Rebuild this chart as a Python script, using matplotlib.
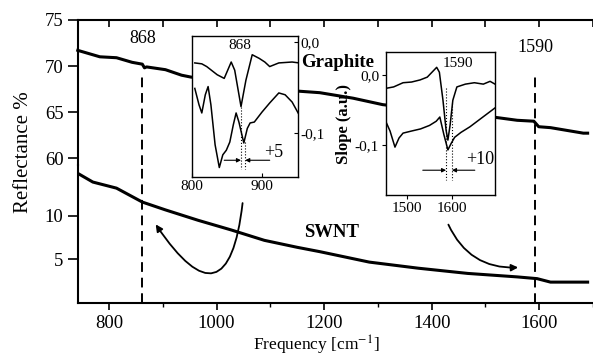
import matplotlib
matplotlib.use("Agg")
import matplotlib.pyplot as plt
import numpy as np

plt.rcParams['font.family'] = ['Liberation Serif', 'DejaVu Serif']
plt.rcParams['mathtext.fontset'] = 'stix'

# main curves
graphite_freq = [742, 783, 814, 843, 862, 866, 870, 905, 935, 952, 1000, 1080,
                 1144, 1192, 1254, 1309, 1400, 1460, 1508, 1559, 1590, 1599, 1621, 1682, 1690]
graphite_refl = [71.7, 71.0, 70.9, 70.4, 70.2, 69.8, 69.9, 69.6, 69.0, 68.8, 68.4, 67.8,
                 67.3, 67.1, 66.5, 65.8, 65.2, 64.8, 64.5, 64.1, 64.0, 63.4, 63.3, 62.7, 62.7]

swnt_freq = [742, 770, 814, 862, 905, 966, 1027, 1089, 1150, 1192, 1284, 1375,
             1467, 1559, 1596, 1621, 1690]
swnt_refl = [14.9, 13.9, 13.2, 11.6, 10.7, 9.5, 8.4, 7.2, 6.4, 5.9, 4.7, 4.0,
             3.4, 3.0, 2.8, 2.4, 2.4]

peak_lines = [862, 1592]

# inset 1 (around 868)
in1_freq = [804, 814, 821, 836, 846, 856, 861, 870, 877, 886, 896, 904, 911, 924, 943, 953]
in1_top = [-0.023, -0.024, -0.027, -0.036, -0.040, -0.022, -0.031, -0.071, -0.042,
           -0.014, -0.018, -0.022, -0.027, -0.023, -0.022, -0.023]
in1_freq_b = [804, 810, 814, 819, 823, 827, 833, 839, 844, 849, 854, 859, 863, 867,
              874, 879, 883, 889, 900, 911, 924, 933, 943, 953]
in1_bot = [-0.051, -0.069, -0.078, -0.058, -0.049, -0.069, -0.113, -0.138, -0.124,
           -0.119, -0.110, -0.091, -0.078, -0.088, -0.111, -0.095, -0.089, -0.088,
           -0.077, -0.067, -0.056, -0.058, -0.066, -0.080]

# inset 2 (around 1590)
in2_freq = [1453, 1470, 1491, 1510, 1529, 1545, 1560, 1566, 1572, 1580, 1587, 1591,
            1596, 1602, 1611, 1630, 1650, 1670, 1685, 1696]
in2_top = [-0.019, -0.017, -0.011, -0.010, -0.007, -0.003, 0.007, 0.011, 0.004,
           -0.036, -0.079, -0.093, -0.071, -0.036, -0.017, -0.013, -0.011, -0.013,
           -0.009, -0.013]
in2_freq_b = [1453, 1462, 1473, 1482, 1491, 1510, 1530, 1550, 1565, 1573, 1582, 1591,
              1598, 1606, 1620, 1640, 1669, 1696]
in2_bot = [-0.067, -0.080, -0.103, -0.090, -0.083, -0.080, -0.077, -0.072, -0.066,
           -0.060, -0.085, -0.107, -0.098, -0.089, -0.082, -0.074, -0.060, -0.047]

fig = plt.figure(figsize=(5.93, 3.58), dpi=100)
W, H = 593.0, 358.0
left = 78 / W
ax_top = fig.add_axes([left, 1 - 165 / H, 1 - left, (165 - 20) / H])
ax_bot = fig.add_axes([left, 1 - 303 / H, 1 - left, (303 - 165) / H])

xlim = (742.4, 1687.3)
for ax in (ax_top, ax_bot):
    ax.set_xlim(*xlim)
    ax.spines['right'].set_visible(False)
    ax.spines['left'].set_linewidth(1.5)
    ax.set_xticks([800, 1000, 1200, 1400, 1600])
    ax.set_xticks([900, 1100, 1300, 1500, 1700], minor=True)
    ax.tick_params(axis='y', direction='out', length=7, width=1.2, labelsize=13.5)
    ax.patch.set_alpha(0)

ax_top.set_ylim(59.24, 75)
ax_top.set_yticks([60, 65, 70, 75])
ax_top.spines['bottom'].set_visible(False)
ax_top.spines['top'].set_linewidth(1.5)
ax_top.xaxis.tick_top()
ax_top.tick_params(axis='x', which='both', direction='in', length=5, width=1.2, labeltop=False)

ax_bot.set_ylim(0, 15.86)
ax_bot.set_yticks([5, 10])
ax_bot.spines['top'].set_visible(False)
ax_bot.spines['bottom'].set_linewidth(1.5)
ax_bot.tick_params(axis='x', which='major', direction='out', length=5, width=1.2, labelsize=13.5, pad=4)
ax_bot.tick_params(axis='x', which='minor', direction='out', length=3, width=1.0)

ax_top.plot(graphite_freq, graphite_refl, color='black', lw=2.2, clip_on=False)
ax_bot.plot(swnt_freq, swnt_refl, color='black', lw=2.2)

for f in peak_lines:
    ax_top.plot([f, f], [59.24, 69.0], color='black', lw=1.4, ls=(0, (5, 3)), clip_on=False)
    ax_bot.plot([f, f], [0, 15.86], color='black', lw=1.4, ls=(0, (5, 3)), clip_on=False)

ax_top.text(862, 73.0, '868', fontsize=13, ha='center', va='center')
ax_top.text(1592, 72.0, '1590', fontsize=13, ha='center', va='center')
ax_top.text(1225, 70.4, 'Graphite', fontsize=13.5, fontweight='bold', ha='center', va='center')
ax_bot.text(1214, 8.05, 'SWNT', fontsize=13.5, fontweight='bold', ha='center', va='center')

fig.text(24 / W, 1 - 152 / H, 'Reflectance %', rotation=90, fontsize=15, ha='center', va='center')
fig.text(316 / W, 1 / H, r'Frequency [cm$^{-1}$]', fontsize=12.5, ha='center', va='bottom')

# curved arrows
ax_bot.annotate('', xy=(884, 9.3), xytext=(1049, 11.8),
                arrowprops=dict(arrowstyle='-|>', connectionstyle='arc3,rad=-1.38',
                                lw=1.3, color='black', mutation_scale=10))
ax_bot.annotate('', xy=(1566, 4.1), xytext=(1429, 9.3),
                arrowprops=dict(arrowstyle='-|>', connectionstyle='arc3,rad=0.35',
                                lw=1.3, color='black', mutation_scale=10))

# inset 1
ins1 = fig.add_axes([192 / W, 1 - 177 / H, 106 / W, 141 / H])
ins1.set_facecolor('white')
ins1.plot(in1_freq, in1_top, color='black', lw=1.1)
ins1.plot(in1_freq_b, in1_bot, color='black', lw=1.1)
ins1.set_xlim(800, 951.4)
ins1.set_ylim(-0.1484, 0.0066)
ins1.set_xticks([800, 900])
ins1.set_yticks([0.0, -0.1])
ins1.set_yticklabels(['0,0', '-0,1'])
ins1.yaxis.tick_right()
ins1.tick_params(axis='both', direction='in', length=3, width=0.8, labelsize=11, pad=2)
for s in ins1.spines.values():
    s.set_linewidth(1.0)
ins1.plot([870, 870], [-0.071, -0.14], color='black', lw=0.8, ls=':')
ins1.plot([876, 876], [-0.11, -0.14], color='black', lw=0.8, ls=':')
ins1.annotate('', xy=(870, -0.130), xytext=(846, -0.130),
              arrowprops=dict(arrowstyle='-|>', lw=0.8, color='black', mutation_scale=6,
                              shrinkA=0, shrinkB=0))
ins1.annotate('', xy=(876, -0.130), xytext=(911, -0.130),
              arrowprops=dict(arrowstyle='-|>', lw=0.8, color='black', mutation_scale=6,
                              shrinkA=0, shrinkB=0))
ins1.text(869, -0.004, '868', fontsize=11, ha='center', va='center')
ins1.text(917, -0.1215, '+5', fontsize=13, ha='center', va='center')

# inset 2
ins2 = fig.add_axes([386 / W, 1 - 195 / H, 109 / W, 143 / H])
ins2.set_facecolor('white')
ins2.plot(in2_freq, in2_top, color='black', lw=1.1)
ins2.plot(in2_freq_b, in2_bot, color='black', lw=1.1)
ins2.set_xlim(1453, 1696)
ins2.set_ylim(-0.1714, 0.0329)
ins2.set_xticks([1500, 1600])
ins2.set_yticks([0.0, -0.1])
ins2.set_yticklabels(['0,0', '-0,1'])
ins2.tick_params(axis='both', direction='out', length=3, width=0.8, labelsize=11, pad=2)
ins2.set_ylabel('Slope (a.u.)', fontsize=12, fontweight='bold', labelpad=2)
for s in ins2.spines.values():
    s.set_linewidth(1.0)
ins2.plot([1587, 1587], [-0.019, -0.150], color='black', lw=0.8, ls=':')
ins2.plot([1600, 1600], [-0.040, -0.150], color='black', lw=0.8, ls=':')
ins2.annotate('', xy=(1587, -0.136), xytext=(1535, -0.136),
              arrowprops=dict(arrowstyle='-|>', lw=0.8, color='black', mutation_scale=6,
                              shrinkA=0, shrinkB=0))
ins2.annotate('', xy=(1600, -0.136), xytext=(1651, -0.136),
              arrowprops=dict(arrowstyle='-|>', lw=0.8, color='black', mutation_scale=6,
                              shrinkA=0, shrinkB=0))
ins2.text(1613, 0.016, '1590', fontsize=11, ha='center', va='center')
ins2.text(1662, -0.120, '+10', fontsize=13, ha='center', va='center')

fig.savefig('out.png', dpi=100)
